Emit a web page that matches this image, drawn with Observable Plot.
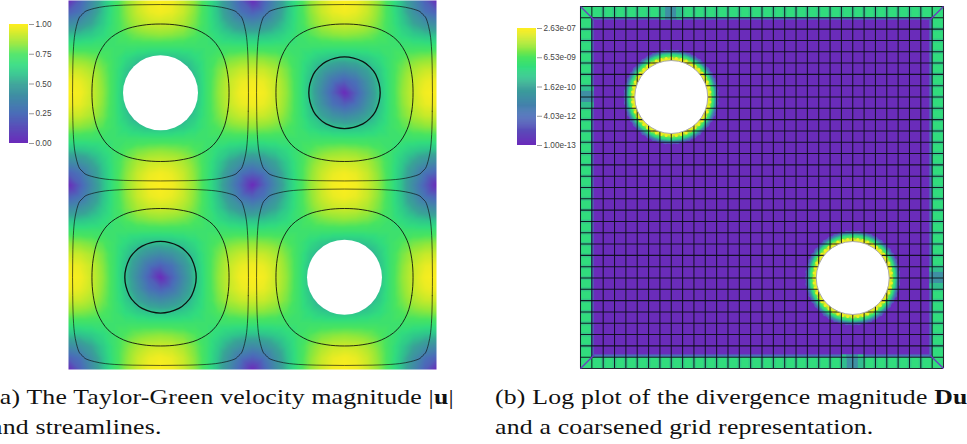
<!DOCTYPE html>
<html><head><meta charset="utf-8">
<script src="https://cdn.jsdelivr.net/npm/d3@7"></script>
<script src="https://cdn.jsdelivr.net/npm/@observablehq/plot@0.6"></script>
<style>
html,body{margin:0;padding:0;background:#fff;width:967px;height:444px;overflow:hidden}
#page{position:relative;width:967px;height:444px;overflow:hidden}
#page svg{position:absolute;display:block;max-width:none}
.cap{position:absolute;font-family:"Liberation Serif",serif;font-size:22px;color:#111;white-space:nowrap;line-height:30px;letter-spacing:.18px;transform:scaleX(1.17);transform-origin:0 0}
.cap b{font-weight:bold}
</style></head><body><div id="page"></div>
<script>
// colour map
const colorStops = [0, 0.25, 0.5, 0.58, 0.66, 0.75, 0.84, 0.92, 0.97, 1];
const colorRange = ["#6a2cba", "#4a6eb8", "#38a496", "#2fc58c", "#30dc7e", "#48e460", "#96e838", "#cdea28", "#eeec22", "#fcee1e"];
const ramp = d3.scaleLinear().domain(colorStops).range(colorRange).interpolate(d3.interpolateRgb).clamp(true);

// Panel (a): velocity magnitude on one eighth-symmetric tile (rows a, columns b; 16 steps per quadrant)
const speedTile = [
  [0.00,0.20,0.38,0.56,0.71,0.83,0.92,0.98,1.00],
  [0.20,0.27,0.42,0.57,0.71,0.82,0.91,0.96,0.98],
  [0.38,0.42,0.50,0.60,0.71,0.80,0.87,0.91,0.92],
  [0.56,0.57,0.60,0.65,0.71,0.76,0.80,0.82,0.83],
  [0.71,0.71,0.71,0.71,0.71,0.71,0.71,0.71,0.71],
  [0.83,0.82,0.80,0.76,0.71,0.65,0.60,0.57,0.56],
  [0.92,0.91,0.87,0.80,0.71,0.60,0.50,0.42,0.38],
  [0.98,0.96,0.91,0.82,0.71,0.57,0.42,0.27,0.20],
  [1.00,0.98,0.92,0.83,0.71,0.56,0.38,0.20,0.00]
];
const speedHoles = [[0.5, 0.5], [1.5, 1.5]];
const speedTicks = [0, 0.25, 0.5, 0.75, 1];

// Streamlines: one quadrant of each closed curve, offsets from the cell centre
const streamOuter = [[.478,0],[.477,.1],[.475,.2],[.468,.3],[.457,.36],[.44,.41],[.425,.425],[.41,.44],[.36,.457],[.3,.468],[.2,.475],[.1,.477],[0,.478]];
const streamMiddle = [[.3725,0],[.3655,.1],[.34,.2],[.285,.285],[.2,.34],[.1,.3655],[0,.3725]];
const streamInner = [[.194,0],[.169,.1],[.139,.139],[.1,.169],[0,.194]];
const cellCentres = [[.5,.5],[1.5,.5],[.5,1.5],[1.5,1.5]];
const innerCentres = [[1.5,.5],[.5,1.5]];

// Panel (b): divergence, log10 magnitude, grid units (32 x 32)
const divTickLogs = [-13, -11.395, -9.79, -8.185, -6.58];
const divTickLabels = ["1.00e-13", "4.03e-12", "1.62e-10", "6.53e-09", "2.63e-07"];
const interiorLog = -13;
const bandLog = -8.75;
const bandEdgeLog = -11.3;
const bandLineLog = -9.8;
const dipOffsets = [-1, -0.5, 0, 0.5];
const dipLogs = [-9.4, -10.4, -10.4, -9.4];
const divHoles = [[8, 8], [24, 24]];
const haloRadii = [47, 46, 45, 44, 43, 42, 41, 40, 39, 38];
const haloLogs = [-11.84, -11.2, -10.3, -9.47, -8.83, -8.38, -8.0, -7.54, -7.09, -6.77];
const haloSpotAngles = d3.range(0, 360, 7.5);
const gridLines = d3.range(0, 33);
const bandLines = d3.range(2, 31);

const LOG_MIN = -13, LOG_MAX = -6.58;
const page = document.getElementById("page");
function place(svg, left, top) { svg.style.left = left + "px"; svg.style.top = top + "px"; page.appendChild(svg); }
const base = {fontFamily: "Liberation Sans", background: "transparent", overflow: "visible"};
const fillSpeed = {type: "linear", domain: [0, 1], interpolate: ramp};
const fillLog = {type: "linear", domain: [LOG_MIN, LOG_MAX], interpolate: ramp};

// ----- Panel (a)
const fold = i => { const k = i % 16; return k > 8 ? 16 - k : k; };
const speedPoints = [];
for (let a = 0; a <= 32; a++) for (let b = 0; b <= 32; b++)
  speedPoints.push({x: a / 16, y: b / 16, v: speedTile[fold(a)][fold(b)]});
function closedCurve(q, cx, cy, id) {
  const tr = q.map(([u, v]) => [cx + u, cy + v]);
  const tl = q.slice(1).map(([u, v]) => [cx - v, cy + u]);
  const bl = q.slice(1).map(([u, v]) => [cx - u, cy - v]);
  const br = q.slice(1, -1).map(([u, v]) => [cx + v, cy - u]);
  return [...tr, ...tl, ...bl, ...br].map(([x, y]) => ({x, y, id}));
}
const streamsOuter = cellCentres.flatMap((c, i) => closedCurve(streamOuter, c[0], c[1], "o" + i));
const streamsMiddle = cellCentres.flatMap((c, i) => closedCurve(streamMiddle, c[0], c[1], "m" + i));
const streamsInner = innerCentres.flatMap((c, i) => closedCurve(streamInner, c[0], c[1], "i" + i));
const streamStyle = {x: "x", y: "y", z: "id", curve: "catmull-rom-closed", stroke: "#0a0a0a"};
place(Plot.plot({
  width: 483, height: 370, marginLeft: 68, marginRight: 47, marginTop: 0, marginBottom: 1,
  style: base,
  x: {domain: [0, 2], axis: null},
  y: {domain: [0, 2], reverse: true, axis: null},
  color: fillSpeed,
  marks: [
    Plot.raster(speedPoints, {x: "x", y: "y", fill: "v", interpolate: "barycentric", x1: 0, x2: 2, y1: 0, y2: 2, pixelSize: 1}),
    Plot.dot(speedHoles, {x: d => d[0], y: d => d[1], r: 37.5, fill: "white"}),
    Plot.line(streamsOuter, {...streamStyle, strokeOpacity: 0.7, strokeWidth: 0.9}),
    Plot.line(streamsMiddle, {...streamStyle, strokeOpacity: 0.85, strokeWidth: 1}),
    Plot.line(streamsInner, {...streamStyle, strokeOpacity: 0.95, strokeWidth: 1.3})
  ]
}), 0, 0);

// Colour bar (a)
place(Plot.plot({
  width: 62, height: 121, marginLeft: 9, marginRight: 34, marginTop: 1, marginBottom: 1,
  style: {...base, fontSize: "8.2px"},
  x: {axis: null, domain: [0, 1]},
  y: {domain: [0, 1]},
  color: fillSpeed,
  marks: [
    Plot.rect(d3.range(0, 120), {x1: 0, x2: 1, y1: d => d / 120, y2: d => Math.min(120, d + 1.4) / 120, fill: d => d / 119}),
    Plot.axisY(speedTicks, {anchor: "right", tickFormat: d3.format(".2f"), tickSize: 5, tickPadding: 2, label: null, stroke: "#999", color: "#444"})
  ]
}), 0, 23);

// ----- Panel (b)
const bandRects = [
  {x1: 0, x2: 32, y1: 0, y2: 1}, {x1: 0, x2: 32, y1: 31, y2: 32},
  {x1: 0, x2: 1, y1: 0, y2: 32}, {x1: 31, x2: 32, y1: 0, y2: 32}
];
const bandEdges = [
  {x1: 1, x2: 31, y1: 1, y2: 1.2}, {x1: 1, x2: 31, y1: 30.8, y2: 31},
  {x1: 1, x2: 1.2, y1: 1, y2: 31}, {x1: 30.8, x2: 31, y1: 1, y2: 31}
];
const dips = dipOffsets.flatMap((o, i) => [
  {x1: 8 + o, x2: 8.5 + o, y1: 0, y2: 1.2, v: dipLogs[i]},
  {x1: 24 + o, x2: 24.5 + o, y1: 30.8, y2: 32, v: dipLogs[i]},
  {x1: 0, x2: 1.2, y1: 8 + o, y2: 8.5 + o, v: dipLogs[i]},
  {x1: 30.8, x2: 32, y1: 24 + o, y2: 24.5 + o, v: dipLogs[i]}
]);
const rings = divHoles.flatMap(h => haloRadii.map((r, i) => ({x: h[0], y: h[1], r, v: haloLogs[i]})));
const PX = 363 / 32;
const spots = (radius, v) => divHoles.flatMap(h => haloSpotAngles.map(a => ({
  x: h[0] + radius / PX * Math.cos(a * Math.PI / 180),
  y: h[1] + radius / PX * Math.sin(a * Math.PI / 180), v})));
const stripe = {strokeWidth: 4, stroke: () => bandLineLog, strokeOpacity: 0.4};
place(Plot.plot({
  width: 484, height: 370, marginLeft: 97, marginRight: 24, marginTop: 6, marginBottom: 2,
  style: base,
  x: {domain: [0, 32], axis: null},
  y: {domain: [0, 32], reverse: true, axis: null},
  color: fillLog,
  r: {type: "identity"},
  marks: [
    Plot.rect([{}], {x1: 0, x2: 32, y1: 0, y2: 32, fill: () => interiorLog}),
    Plot.rect(bandRects, {x1: "x1", x2: "x2", y1: "y1", y2: "y2", fill: () => bandLog}),
    Plot.rect(bandEdges, {x1: "x1", x2: "x2", y1: "y1", y2: "y2", fill: () => bandEdgeLog}),
    Plot.ruleX(bandLines, {y1: 0, y2: 1, ...stripe}),
    Plot.ruleX(bandLines, {y1: 31, y2: 32, ...stripe}),
    Plot.ruleY(bandLines, {x1: 0, x2: 1, ...stripe}),
    Plot.ruleY(bandLines, {x1: 31, x2: 32, ...stripe}),
    Plot.rect(dips, {x1: "x1", x2: "x2", y1: "y1", y2: "y2", fill: "v"}),
    Plot.dot(spots(45.5, -11.4), {x: "x", y: "y", r: 2.2, fill: "v"}),
    Plot.dot(rings, {x: "x", y: "y", r: "r", fill: "v"}),
    Plot.dot(spots(39, -6.7), {x: "x", y: "y", r: 1.5, fill: "v"}),
    Plot.ruleX(gridLines, {y1: 0, y2: 32, stroke: "#0c0c18", strokeOpacity: 0.9, strokeWidth: 1.05}),
    Plot.ruleY(gridLines, {x1: 0, x2: 32, stroke: "#0c0c18", strokeOpacity: 0.9, strokeWidth: 1.05}),
    Plot.link([[0, 0, 1.2, 1.2], [32, 0, 30.8, 1.2], [0, 32, 1.2, 30.8], [32, 32, 30.8, 30.8]],
      {x1: d => d[0], y1: d => d[1], x2: d => d[2], y2: d => d[3], stroke: "#6a3cc0", strokeWidth: 1.3}),
    Plot.dot(divHoles, {x: d => d[0], y: d => d[1], r: 36.5, fill: "white", stroke: "#aaa", strokeWidth: 1})
  ]
}), 483, 0);

// Colour bar (b): the colour and the axis both run on log10 of the magnitude
place(Plot.plot({
  width: 62, height: 120, marginLeft: 0, marginRight: 43, marginTop: 1, marginBottom: 2,
  style: {...base, fontSize: "8.2px"},
  x: {axis: null, domain: [0, 1]},
  y: {domain: [LOG_MIN, LOG_MAX]},
  color: fillLog,
  marks: [
    Plot.rect(d3.range(0, 120), {x1: 0, x2: 1,
      y1: d => LOG_MIN + (LOG_MAX - LOG_MIN) * d / 120,
      y2: d => LOG_MIN + (LOG_MAX - LOG_MIN) * Math.min(120, d + 1.4) / 120,
      fill: d => LOG_MIN + (LOG_MAX - LOG_MIN) * d / 119}),
    Plot.axisY(divTickLogs, {anchor: "right", tickFormat: d => divTickLabels[divTickLogs.indexOf(d)], tickSize: 5, tickPadding: 2, label: null, stroke: "#999", color: "#444"})
  ]
}), 517, 27);

// ----- Captions
const capA = document.createElement("div");
capA.className = "cap";
capA.style.left = "-9px"; capA.style.top = "382px";
capA.innerHTML = "(a) The Taylor-Green velocity magnitude |<b>u</b>|<br>and streamlines.";
page.appendChild(capA);
const capB = document.createElement("div");
capB.className = "cap";
capB.style.left = "495px"; capB.style.top = "382px";
capB.innerHTML = "(b) Log plot of the divergence magnitude <b>Du</b><br>and a coarsened grid representation.";
page.appendChild(capB);
</script></body></html>
